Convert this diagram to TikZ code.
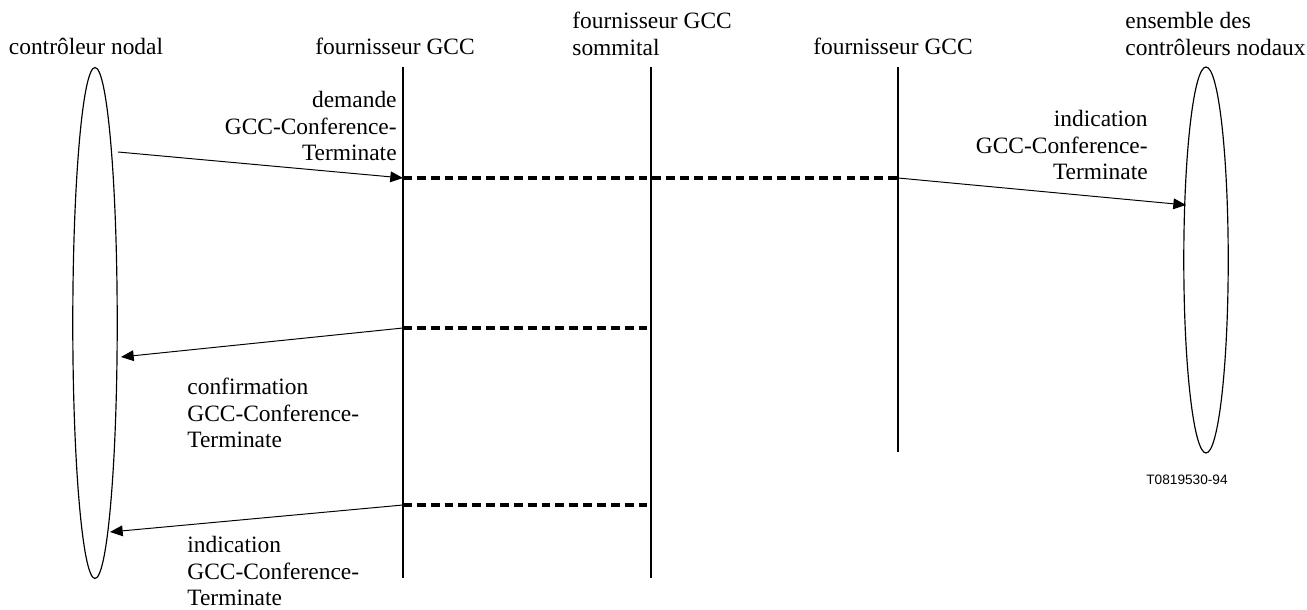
\documentclass[tikz,border=0pt]{standalone}
\usepackage{fontspec}
\setmainfont{Liberation Serif}
\newfontfamily\refsans{Liberation Sans}
\usetikzlibrary{shapes.geometric,arrows.meta,positioning}

\tikzset{
  lifeline/.style={line width=0.6pt},
  msg/.style={line width=0.5pt,-{Triangle[length=6.5pt,width=5.5pt]}},
  relay/.style={line width=1.6pt,dash pattern=on 4.5pt off 2.6pt},
  party/.style={draw,ellipse,line width=0.6pt,inner sep=0pt},
  lbl/.style={inner sep=0pt,font=\fontsize{12}{13.6}\selectfont}
}

\begin{document}
\begin{tikzpicture}[x=0.018cm,y=-0.018cm]
    \useasboundingbox (0,0) rectangle (1307,610);

    % Parties
    \node[party,minimum width=0.8cm,minimum height=9.2cm] (nodal) at (95,323) {};
    \node[party,minimum width=0.8cm,minimum height=6.95cm] (allnodal) at (1206,260) {};
    \node[lbl,anchor=base] (nodaltxt) at (86,55) {contrôleur nodal};
    \node[lbl,anchor=north west,align=left] (alltxt) at (1125,12) {ensemble des\\contrôleurs nodaux};

    % Lifelines
    \coordinate (p1top) at (403,67);  \coordinate (p1bot) at (403,578);
    \coordinate (toptop) at (651,67); \coordinate (topbot) at (651,578);
    \coordinate (p2top) at (898,67);  \coordinate (p2bot) at (898,452);
    \draw[lifeline] (p1top) -- (p1bot);
    \draw[lifeline] (toptop) -- (topbot);
    \draw[lifeline] (p2top) -- (p2bot);
    \node[lbl,anchor=base] (p1txt) at (395,55) {fournisseur GCC};
    \node[lbl,anchor=north west,align=left] (toptxt) at (572,12) {fournisseur GCC\\sommital};
    \node[lbl,anchor=base] (p2txt) at (893,55) {fournisseur GCC};

    % Request and indication
    \coordinate (reqfrom) at (118,152);
    \coordinate (req) at (403,178);
    \coordinate (indfrom) at (898,178);
    \coordinate (ind) at (1186,205);
    \draw[msg] (reqfrom) -- (req);
    \draw[relay] (req) -- (indfrom);
    \draw[msg] (indfrom) -- (ind);
    \node[lbl,anchor=north east,align=right] (reqtxt) at (397,91) {demande\\GCC-Conference-\\Terminate};
    \node[lbl,anchor=north east,align=right] (indtxt) at (1148,110) {indication\\GCC-Conference-\\Terminate};

    % Confirmation
    \coordinate (cnf) at (403,328);
    \coordinate (cnftop) at (651,328);
    \coordinate (cnfto) at (121,357);
    \draw[relay] (cnf) -- (cnftop);
    \draw[msg] (cnf) -- (cnfto);
    \node[lbl,anchor=north west,align=left] (cnftxt) at (187,378) {confirmation\\GCC-Conference-\\Terminate};

    % Local indication
    \coordinate (loc) at (403,505);
    \coordinate (loctop) at (651,505);
    \coordinate (locto) at (110,532);
    \draw[relay] (loc) -- (loctop);
    \draw[msg] (loc) -- (locto);
    \node[lbl,anchor=north west,align=left] (loctxt) at (187,536) {indication\\GCC-Conference-\\Terminate};

    \node[inner sep=0pt,font=\refsans\fontsize{7}{8}\selectfont] (ref) at (1187,480) {T0819530-94};
\end{tikzpicture}
\end{document}
